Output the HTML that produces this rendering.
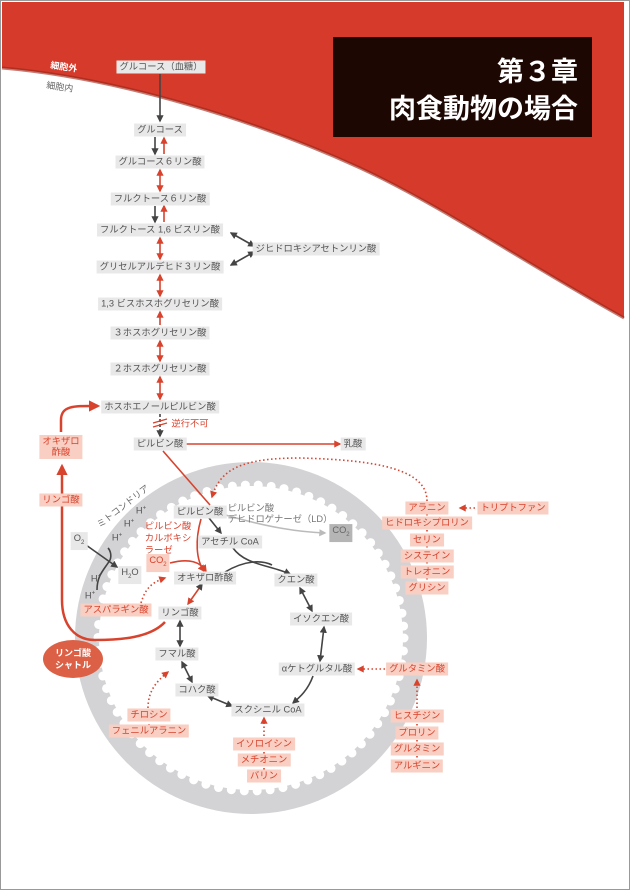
<!DOCTYPE html>
<html><head><meta charset="utf-8"><style>
html,body{margin:0;padding:0;background:#fff}
#p{position:relative;width:630px;height:890px;overflow:hidden;font-family:"Liberation Sans","Noto Sans CJK JP",sans-serif}
svg{position:absolute;left:0;top:0}
.b{position:absolute;transform:translate(-50%,-50%);white-space:nowrap;font-size:9.3px;line-height:11px;padding:1px 3px;background:#e8e8e8;color:#555}
.r{background:#f8cfc2;color:#d8432e}
.t{background:none}
.rt{background:none;color:#d8432e}
.d{background:#b5b5b5;color:#666}
</style></head><body><div id="p">
<svg width="630" height="890" viewBox="0 0 630 890">
<defs>
<marker id="ak" viewBox="0 0 10 10" refX="8" refY="5" markerWidth="4.5" markerHeight="4.5" orient="auto-start-reverse"><path d="M0,0L10,5L0,10z" fill="#444"/></marker>
<marker id="ar" viewBox="0 0 10 10" refX="8" refY="5" markerWidth="4.5" markerHeight="4.5" orient="auto-start-reverse"><path d="M0,0L10,5L0,10z" fill="#d8432e"/></marker>
<marker id="ag" viewBox="0 0 10 10" refX="8" refY="5" markerWidth="4.5" markerHeight="4.5" orient="auto-start-reverse"><path d="M0,0L10,5L0,10z" fill="#bbb"/></marker>
</defs>
<rect x="0.5" y="0.5" width="629" height="889" fill="none" stroke="#999"/>
<path d="M2,2H624V318C520,260 440,205 360,168C260,122 120,78 2,68Z" fill="#d63a2a"/>
<path d="M2,68C120,78 260,122 360,168C440,205 520,260 624,318" fill="none" stroke="#9a2418" stroke-width="3" opacity="0.6"/>
<rect x="333" y="37" width="259" height="100" fill="#1c0703"/>
<text x="578" y="81" font-size="27" font-weight="bold" fill="#fff" text-anchor="end" font-family="Liberation Sans,Noto Sans CJK JP,sans-serif">第３章</text>
<text x="578" y="118" font-size="27" font-weight="bold" fill="#fff" text-anchor="end" font-family="Liberation Sans,Noto Sans CJK JP,sans-serif">肉食動物の場合</text>
<text x="50" y="68" font-size="9" fill="#fff" font-weight="bold" transform="rotate(8 50 68)" font-family="Noto Sans CJK JP,sans-serif">細胞外</text>
<text x="46" y="88" font-size="9" fill="#666" transform="rotate(8 46 88)" font-family="Noto Sans CJK JP,sans-serif">細胞内</text>
<circle cx="251" cy="638" r="176" fill="#d3d3d5"/>
<circle cx="251" cy="638" r="152" fill="#fff"/>
<circle cx="251" cy="638" r="153" fill="none" stroke="#fff" stroke-width="9" stroke-dasharray="0 13" stroke-linecap="round"/>
<text x="100" y="528" font-size="9" fill="#666" transform="rotate(-38 100 528)" font-family="Noto Sans CJK JP,sans-serif">ミトコンドリア</text>
<g stroke-width="1.6" fill="none">
<line x1="160" y1="74" x2="160" y2="121" stroke="#444" marker-end="url(#ak)"/>
<line x1="155" y1="137" x2="155" y2="154" stroke="#444" marker-end="url(#ak)"/>
<line x1="164" y1="154" x2="164" y2="138" stroke="#d8432e" marker-end="url(#ar)"/>
<line x1="160" y1="170" x2="160" y2="191" stroke="#d8432e" marker-end="url(#ar)" marker-start="url(#ar)"/>
<line x1="155" y1="206" x2="155" y2="222" stroke="#444" marker-end="url(#ak)"/>
<line x1="164" y1="222" x2="164" y2="206" stroke="#d8432e" marker-end="url(#ar)"/>
<line x1="160" y1="238" x2="160" y2="259" stroke="#d8432e" marker-end="url(#ar)" marker-start="url(#ar)"/>
<line x1="160" y1="275" x2="160" y2="296" stroke="#d8432e" marker-end="url(#ar)" marker-start="url(#ar)"/>
<line x1="160" y1="312" x2="160" y2="325" stroke="#d8432e" marker-start="url(#ar)"/>
<line x1="160" y1="341" x2="160" y2="361" stroke="#d8432e" marker-end="url(#ar)" marker-start="url(#ar)"/>
<line x1="160" y1="377" x2="160" y2="399" stroke="#d8432e" marker-end="url(#ar)" marker-start="url(#ar)"/>
<line x1="231" y1="233" x2="254" y2="246" stroke="#444" marker-end="url(#ak)" marker-start="url(#ak)"/>
<line x1="231" y1="265" x2="254" y2="252" stroke="#444" marker-end="url(#ak)" marker-start="url(#ak)"/>
<line x1="160" y1="414" x2="160" y2="436" stroke="#444" stroke-dasharray="3 2" marker-end="url(#ak)"/>
<path d="M153,423l14,-4M153,427l14,-4" stroke="#d8432e" stroke-width="1.2"/>
<line x1="170" y1="444" x2="340" y2="444" stroke="#d8432e" marker-end="url(#ar)" marker-start="url(#ar)"/>
<path d="M165,622C150,638 120,640 95,640C75,640 62,625 62,600V466" stroke="#d8432e" stroke-width="2.5" marker-end="url(#ar)"/>
<path d="M61,432V420C61,405 75,406 98,406" stroke="#d8432e" stroke-width="2.5" marker-end="url(#ar)"/>
<line x1="163" y1="451" x2="210" y2="505" stroke="#d8432e"/>
<path d="M201,519C195,540 196,560 204,571" stroke="#d8432e" marker-end="url(#ar)"/>
<path d="M170,563C190,558 200,562 206,571" stroke="#d8432e" marker-end="url(#ar)"/>
<path d="M209,518l12,15" stroke="#444" marker-end="url(#ak)"/>
<path d="M222,514C270,528 300,532 325,533" stroke="#bbb" marker-end="url(#ag)"/>
<path d="M233,548C245,565 270,565 290,574" stroke="#444" marker-end="url(#ak)"/>
<path d="M225,572C245,560 262,560 272,565" stroke="#444"/>
<line x1="300" y1="588" x2="312" y2="611" stroke="#444" marker-end="url(#ak)" marker-start="url(#ak)"/>
<line x1="324" y1="627" x2="320" y2="661" stroke="#444" marker-end="url(#ak)" marker-start="url(#ak)"/>
<path d="M313,676C308,690 300,697 293,703" stroke="#444" marker-end="url(#ak)"/>
<line x1="208" y1="696" x2="232" y2="706" stroke="#444" marker-end="url(#ak)" marker-start="url(#ak)"/>
<line x1="182" y1="662" x2="192" y2="682" stroke="#444" marker-end="url(#ak)" marker-start="url(#ak)"/>
<line x1="180" y1="621" x2="180" y2="646" stroke="#444" marker-end="url(#ak)" marker-start="url(#ak)"/>
<line x1="188" y1="604" x2="200" y2="587" stroke="#d8432e" marker-start="url(#ar)"/>
<path d="M200,587l2,-3" stroke="#444" marker-end="url(#ak)"/>
<line x1="86" y1="545" x2="117" y2="567" stroke="#444" marker-end="url(#ak)"/>
<path d="M97,590C97,575 104,570 110,560C112,555 110,550 108,548" stroke="#444"/>
<g stroke="#d8432e" stroke-dasharray="1.5 2.5" stroke-width="1.6">
<path d="M427,501C427,470 380,460 300,458C240,458 220,470 212,497" marker-end="url(#ar)"/>
<line x1="483" y1="508" x2="460" y2="508" marker-end="url(#ar)"/>
<path d="M141,603C145,590 150,583 165,578" marker-end="url(#ar)"/>
<line x1="385" y1="669" x2="358" y2="669" marker-end="url(#ar)"/>
<line x1="417" y1="708" x2="417" y2="680" marker-end="url(#ar)"/>
<path d="M148,708C148,690 158,680 168,672" marker-end="url(#ar)"/>
<line x1="264" y1="736" x2="264" y2="718" marker-end="url(#ar)"/>
<line x1="427" y1="514" x2="427" y2="582"/>
<line x1="417" y1="720" x2="417" y2="762"/>
<line x1="264" y1="748" x2="264" y2="772"/>
<line x1="149" y1="720" x2="149" y2="728"/>
</g>
</g>
<ellipse cx="73" cy="659" rx="30" ry="19" fill="#dc6046"/>
<text x="73" y="656" font-size="9" font-weight="bold" fill="#fff" text-anchor="middle" font-family="Noto Sans CJK JP,sans-serif">リンゴ酸</text>
<text x="73" y="668" font-size="9" font-weight="bold" fill="#fff" text-anchor="middle" font-family="Noto Sans CJK JP,sans-serif">シャトル</text>
</svg>
<div class="b" style="left:161px;top:67px">グルコース（血糖）</div>
<div class="b" style="left:160px;top:130px">グルコース</div>
<div class="b" style="left:160px;top:162px">グルコース６リン酸</div>
<div class="b" style="left:160px;top:199px">フルクトース６リン酸</div>
<div class="b" style="left:160px;top:230px">フルクトース 1,6 ビスリン酸</div>
<div class="b" style="left:316px;top:249px">ジヒドロキシアセトンリン酸</div>
<div class="b" style="left:160px;top:267px">グリセルアルデヒド３リン酸</div>
<div class="b" style="left:160px;top:304px">1,3 ビスホスホグリセリン酸</div>
<div class="b" style="left:160px;top:333px">３ホスホグリセリン酸</div>
<div class="b" style="left:160px;top:369px">２ホスホグリセリン酸</div>
<div class="b" style="left:160px;top:407px">ホスホエノールピルビン酸</div>
<div class="b rt" style="left:190px;top:424px">逆行不可</div>
<div class="b" style="left:160px;top:444px">ピルビン酸</div>
<div class="b" style="left:353px;top:444px">乳酸</div>
<div class="b r" style="left:61px;top:447px;text-align:center">オキザロ<br>酢酸</div>
<div class="b r" style="left:61px;top:500px">リンゴ酸</div>
<div class="b" style="left:200px;top:512px">ピルビン酸</div>
<div class="b t" style="left:280px;top:514px;color:#777">ピルビン酸<br>デヒドロゲナーゼ（LD）</div>
<div class="b d" style="left:341px;top:533px">CO<sub style="font-size:6px">2</sub></div>
<div class="b" style="left:230px;top:542px">アセチル CoA</div>
<div class="b rt" style="left:168px;top:538px;line-height:12px">ピルビン酸<br>カルボキシ<br>ラーゼ</div>
<div class="b r" style="left:158px;top:563px">CO<sub style="font-size:6px">2</sub></div>
<div class="b" style="left:79px;top:541px">O<sub style="font-size:6px">2</sub></div>
<div class="b" style="left:130px;top:575px">H<sub style="font-size:6px">2</sub>O</div>
<div class="b t" style="left:141px;top:510px">H<sup style="font-size:6px">+</sup></div>
<div class="b t" style="left:129px;top:523px">H<sup style="font-size:6px">+</sup></div>
<div class="b t" style="left:117px;top:537px">H<sup style="font-size:6px">+</sup></div>
<div class="b t" style="left:96px;top:578px">H<sup style="font-size:6px">+</sup></div>
<div class="b t" style="left:90px;top:595px">H<sup style="font-size:6px">+</sup></div>
<div class="b" style="left:205px;top:578px">オキザロ酢酸</div>
<div class="b" style="left:296px;top:580px">クエン酸</div>
<div class="b r" style="left:116px;top:610px">アスパラギン酸</div>
<div class="b" style="left:180px;top:613px">リンゴ酸</div>
<div class="b" style="left:321px;top:619px">イソクエン酸</div>
<div class="b" style="left:177px;top:654px">フマル酸</div>
<div class="b" style="left:317px;top:669px">αケトグルタル酸</div>
<div class="b r" style="left:417px;top:669px">グルタミン酸</div>
<div class="b" style="left:197px;top:690px">コハク酸</div>
<div class="b" style="left:268px;top:710px">スクシニル CoA</div>
<div class="b r" style="left:149px;top:715px">チロシン</div>
<div class="b r" style="left:149px;top:731px">フェニルアラニン</div>
<div class="b r" style="left:264px;top:744px">イソロイシン</div>
<div class="b r" style="left:264px;top:760px">メチオニン</div>
<div class="b r" style="left:264px;top:776px">バリン</div>
<div class="b r" style="left:427px;top:508px">アラニン</div>
<div class="b r" style="left:513px;top:508px">トリプトファン</div>
<div class="b r" style="left:427px;top:523px">ヒドロキシプロリン</div>
<div class="b r" style="left:427px;top:540px">セリン</div>
<div class="b r" style="left:427px;top:556px">システイン</div>
<div class="b r" style="left:427px;top:572px">トレオニン</div>
<div class="b r" style="left:427px;top:588px">グリシン</div>
<div class="b r" style="left:417px;top:716px">ヒスチジン</div>
<div class="b r" style="left:417px;top:733px">プロリン</div>
<div class="b r" style="left:417px;top:749px">グルタミン</div>
<div class="b r" style="left:417px;top:766px">アルギニン</div>
</div></body></html>
